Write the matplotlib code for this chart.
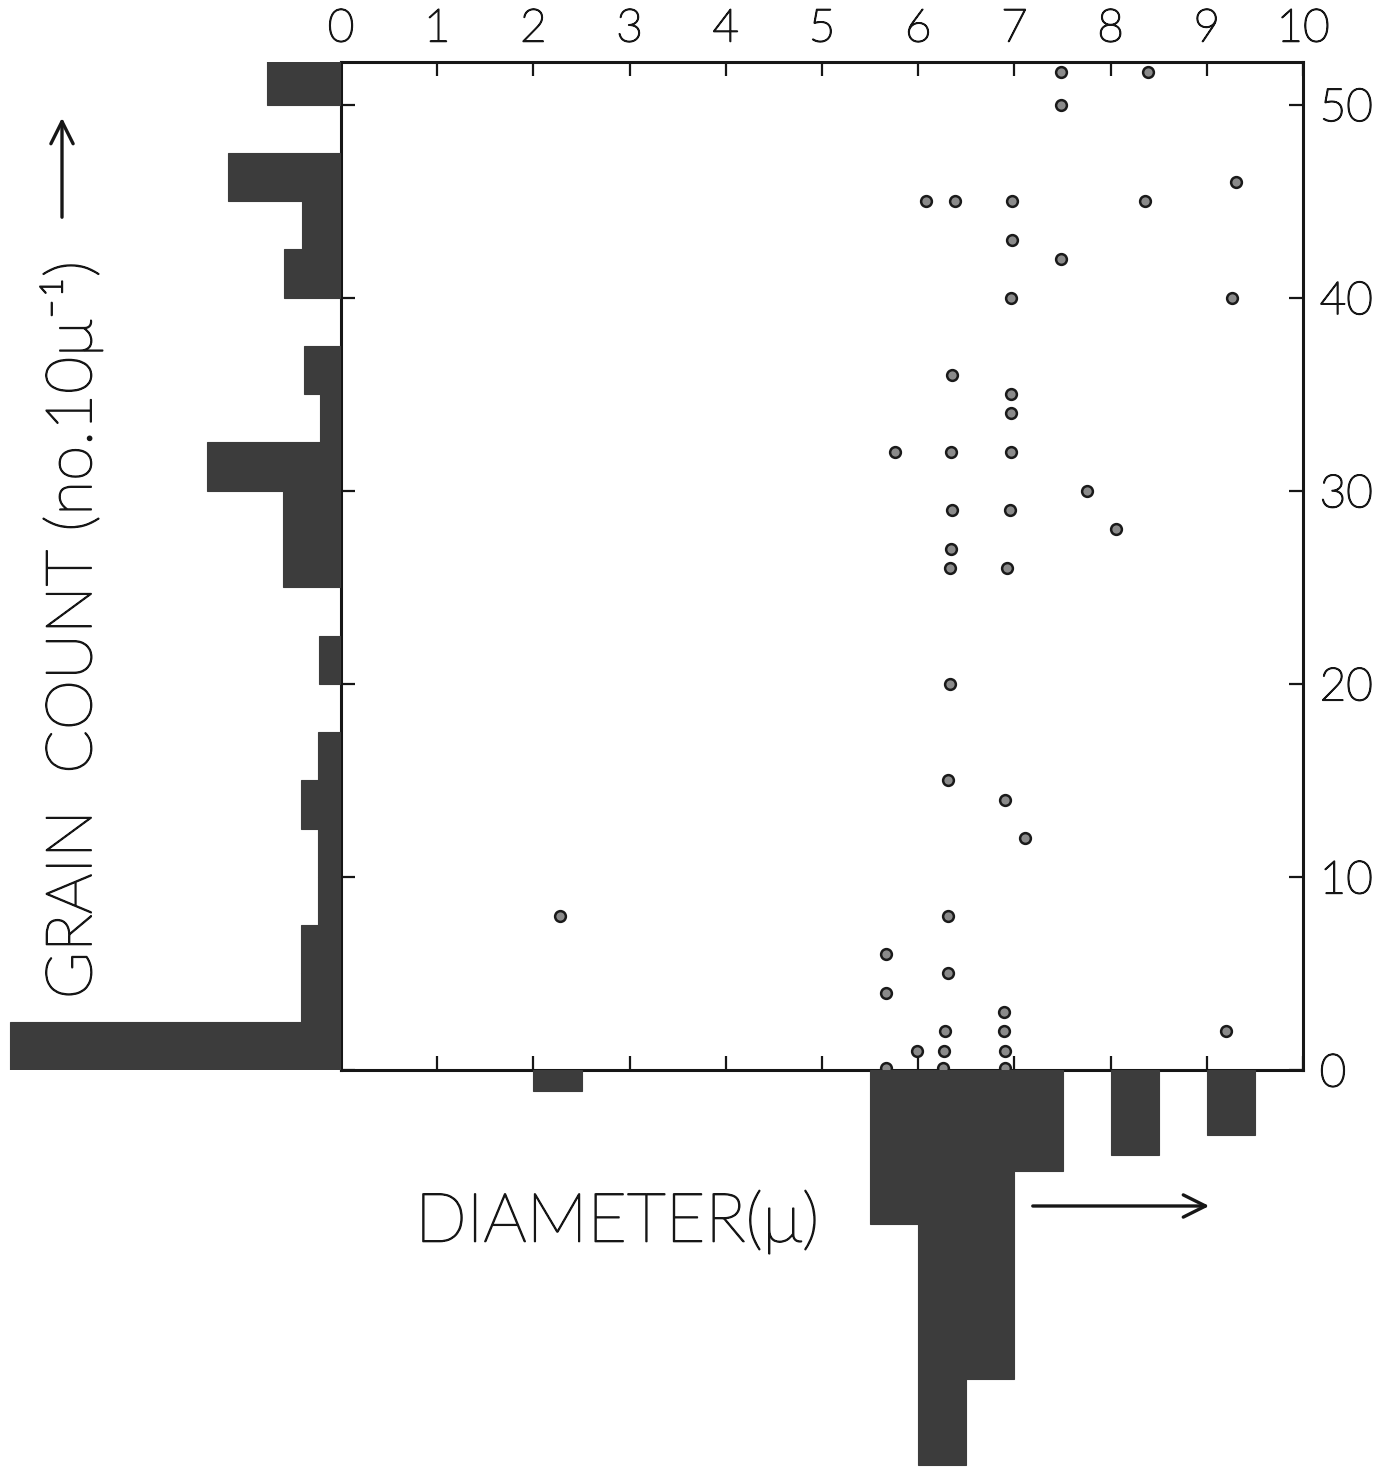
import numpy as np
import matplotlib
matplotlib.use("Agg")
import matplotlib.pyplot as plt
import matplotlib.patheffects as pe
from matplotlib.patches import FancyArrowPatch

plt.rcParams['font.family'] = ['Lato', 'DejaVu Sans']
plt.rcParams['font.weight'] = 'light'

# grain count (no. per 10 micron) against grain diameter (micron)
diameter = [7.48, 8.39, 7.48, 9.30, 6.08, 6.38, 6.98, 8.36, 6.97, 7.48,
            6.96, 9.26, 6.35, 6.96, 6.96, 5.76, 6.34, 6.96, 7.75, 6.35,
            6.95, 8.06, 6.34, 6.33, 6.92, 6.33, 6.31, 6.90, 7.11, 2.28,
            6.31, 5.67, 6.31, 5.67, 6.89, 6.28, 6.89, 9.20, 5.99, 6.27,
            6.90, 5.67, 6.26, 6.90]
grain_count = [51.7, 51.7, 50, 46, 45, 45, 45, 45, 43, 42,
               40, 40, 36, 35, 34, 32, 32, 32, 30, 29,
               29, 28, 27, 26, 26, 20, 15, 14, 12, 8,
               8, 6, 5, 4, 3, 2, 2, 2, 1, 1,
               1, 0.1, 0.1, 0.1]

# marginal frequency of grain count, bins of 2.5
count_bins = np.arange(0, 52.5, 2.5)
count_freq = [17.0, 2.05, 2.05, 1.18, 1.18, 2.05, 1.18, 0, 1.15, 0,
              2.97, 2.97, 6.87, 1.08, 1.9, 0, 2.92, 2.0, 5.8, 0, 3.8]

# marginal frequency of diameter, bins of 0.5
diam_bins = [2.0, 5.5, 6.0, 6.5, 7.0, 8.0, 9.0]
diam_freq = [1.08, 7.9, 20.26, 15.85, 5.18, 4.36, 3.33]

W, H = 1395, 1469
fig = plt.figure(figsize=(W / 100, H / 100), dpi=100)

x0, x1 = 341, 1303
y0, y1 = 1070, 62
px = 19.5  # pixels per frequency unit for both histograms
ink = '#161616'
# light face thickened a little so strokes look like pen lettering
pen = [pe.withStroke(linewidth=1.1, foreground=ink)]

ax = fig.add_axes([x0 / W, 1 - y0 / H, (x1 - x0) / W, (y0 - y1) / H])
ax_left = fig.add_axes([0, 1 - y0 / H, x0 / W, (y0 - y1) / H], sharey=ax)
ax_bot = fig.add_axes([x0 / W, 0, (x1 - x0) / W, (H - y0) / H], sharex=ax)

bar_kw = dict(color='#3c3c3c', edgecolor='#3c3c3c', linewidth=0.8)

ax_left.barh(count_bins, count_freq, height=2.5, align='edge', **bar_kw)
ax_left.set_xlim(x0 / px, 0)
ax_left.axis('off')

ax_bot.bar(diam_bins, diam_freq, width=0.5, align='edge', **bar_kw)
ax_bot.set_ylim((H - y0) / px, 0)
ax_bot.axis('off')

ax.scatter(diameter, grain_count, s=60, facecolor='#8a8a8a',
           edgecolor='#1a1a1a', linewidth=1.8, zorder=3, clip_on=False)

ax.set_xlim(0, 10)
ax.set_ylim(0, (y0 - y1) / 19.31)
ax.patch.set_alpha(0)
for s in ax.spines.values():
    s.set_linewidth(2.2)
    s.set_color(ink)

ax.set_xticks(range(0, 11))
ax.set_yticks(range(0, 51, 10))
ax.tick_params(axis='both', direction='in', length=10, width=1.6,
               color=ink, top=True, right=True, left=True, bottom=True,
               labeltop=True, labelbottom=False, labelright=True,
               labelleft=False, labelsize=33, labelcolor=ink)
ax.tick_params(axis='x', pad=9)
ax.tick_params(axis='y', pad=12)
for lab in ax.get_xticklabels() + ax.get_yticklabels():
    lab.set_path_effects(pen)

fig.text(72 / W, 1 - 630 / H, 'GRAIN  COUNT (no.10μ⁻¹)', rotation=90,
         ha='center', va='center', fontsize=46, color=ink, path_effects=pen)
fig.text(617 / W, 1 - 1222 / H, 'DIAMETER(μ)', ha='center', va='center',
         fontsize=49, color=ink, path_effects=pen)

arrow_kw = dict(arrowstyle='->', mutation_scale=40, lw=2.4, color=ink,
                transform=fig.transFigure)
fig.add_artist(FancyArrowPatch((62 / W, 1 - 220 / H), (62 / W, 1 - 115 / H),
                               **arrow_kw))
fig.add_artist(FancyArrowPatch((1030 / W, 1 - 1206 / H),
                               (1212 / W, 1 - 1206 / H), **arrow_kw))

fig.savefig('out.png', dpi=100)
